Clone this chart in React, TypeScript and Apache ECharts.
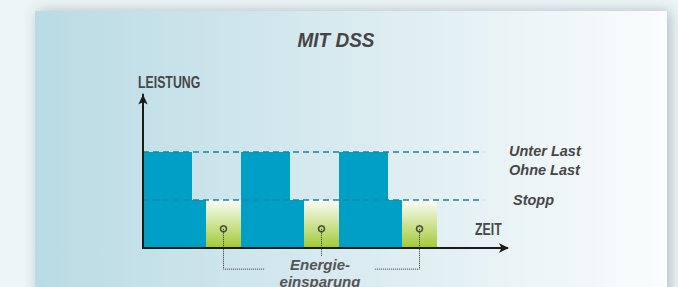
import React, { useEffect, useRef } from "react";
import * as echarts from "echarts";

// Segments of the power curve (x in time units, level: 0 axis, 1 = Stopp, 2 = Unter Last)
const segStart = [0, 7, 9, 14, 21, 23, 28, 35, 37];
const segEnd = [7, 9, 14, 21, 23, 28, 35, 37, 42];
const segLevel = [2, 1, 1, 2, 1, 1, 2, 1, 1];
// 0 = running (blue), 1 = stopped / energy saving (green)
const segKind = [0, 0, 1, 0, 0, 1, 0, 0, 1];

// Reference levels
const levelNames = ["Stopp", "Unter Last"];
const levelValues = [1, 2];
const dashEnd = 48.6;

// Saving markers (centre of each stop phase)
const saveX = [11.5, 25.5, 39.5];
const saveY = 0.4;
// leader lines from markers to label
const leader1 = [[11.5, 0.4], [11.5, -0.44], [17.3, -0.44]];
const leader2 = [[25.5, 0.4], [25.5, -0.17]];
const leader3 = [[39.5, 0.4], [39.5, -0.44], [33.0, -0.44]];

const X_MAX = 52;
const Y_MAX = 3.2;

const BLUE = "#00a0c6";
const DASH = "#17849f";
const TEXT = "#474747";

export default function App() {
  const ref = useRef<HTMLDivElement>(null);
  useEffect(() => {
    document.body.style.margin = "0";
    if (!ref.current) return;
    const chart = echarts.init(ref.current, undefined, { renderer: "svg" });
    const segData = segStart.map((s, i) => [s, segEnd[i], segLevel[i], segKind[i]]);
    const green = new echarts.graphic.LinearGradient(0, 0, 0, 1, [
      { offset: 0, color: "#fbfdf6" },
      { offset: 1, color: "#a2c935" },
    ]);
    const leaderStyle = { color: "#333", width: 1, type: "dotted" as const };
    const ital = "italic";
    const option: any = {
      animation: false,
      backgroundColor: "#edf5f7",
      grid: { left: 143, width: 364, top: 248 - 48 * Y_MAX, height: 48 * Y_MAX },
      xAxis: {
        type: "value",
        min: 0,
        max: X_MAX,
        z: 5,
        splitLine: { show: false },
        axisTick: { show: false },
        axisLabel: { show: false },
        axisLine: {
          show: true,
          symbol: ["none", "arrow"],
          symbolSize: [7, 10],
          symbolOffset: [0, 2],
          lineStyle: { color: "#1a1a1a", width: 2 },
        },
      },
      yAxis: {
        type: "value",
        min: 0,
        max: Y_MAX,
        z: 5,
        splitLine: { show: false },
        axisTick: { show: false },
        axisLabel: { show: false },
        axisLine: {
          show: true,
          symbol: ["none", "arrow"],
          symbolSize: [7, 10],
          lineStyle: { color: "#1a1a1a", width: 2 },
        },
      },
      series: [
        {
          type: "custom",
          z: 2,
          data: segData,
          renderItem: (params: any, api: any) => {
            const x0 = api.value(0);
            const x1 = api.value(1);
            const lv = api.value(2);
            const kind = api.value(3);
            const p0 = api.coord([x0, lv]);
            const p1 = api.coord([x1, 0]);
            return {
              type: "rect",
              shape: { x: p0[0], y: p0[1], width: p1[0] - p0[0], height: p1[1] - p0[1] },
              style: { fill: kind === 0 ? BLUE : green },
            };
          },
        },
        ...levelValues.map((v) => ({
          type: "line",
          z: 3,
          symbol: "none",
          silent: true,
          data: [[0, v], [dashEnd, v]],
          lineStyle: { color: DASH, width: 1.6, type: [6, 4] },
        })),
        ...[leader1, leader2, leader3].map((d) => ({
          type: "line",
          z: 4,
          symbol: "none",
          clip: false,
          data: d,
          lineStyle: leaderStyle,
        })),
        {
          type: "scatter",
          z: 6,
          symbol: "circle",
          symbolSize: 6,
          data: saveX.map((x) => [x, saveY]),
          itemStyle: { color: "rgba(0,0,0,0)", borderColor: "#2a2a2a", borderWidth: 1.6 },
        },
      ],
      graphic: [
        {
          type: "rect",
          z: -10,
          silent: true,
          shape: { x: 35, y: 11, width: 632, height: 320 },
          style: {
            fill: new echarts.graphic.LinearGradient(0, 0, 1, 0, [
              { offset: 0, color: "#badbe4" },
              { offset: 0.5, color: "#d9ebf0" },
              { offset: 1, color: "#fafcfd" },
            ]),
            shadowBlur: 14,
            shadowColor: "rgba(60,80,90,0.35)",
            shadowOffsetX: 3,
            shadowOffsetY: 0,
          },
        },
        {
          type: "text",
          x: 336,
          y: 40,
          scaleX: 0.95,
          style: {
            text: "MIT DSS",
            fontFamily: "Liberation Sans, Arial, sans-serif",
            fontWeight: "bold",
            fontStyle: ital,
            fontSize: 20,
            fill: "#444",
            textAlign: "center",
            textVerticalAlign: "middle",
          },
        },
        {
          type: "text",
          x: 138,
          y: 82,
          scaleX: 0.77,
          style: {
            text: "LEISTUNG",
            fontFamily: "Liberation Sans, Arial, sans-serif",
            fontWeight: "bold",
            fontSize: 16,
            fill: TEXT,
            textAlign: "left",
            textVerticalAlign: "middle",
          },
        },
        {
          type: "text",
          x: 475,
          y: 229,
          scaleX: 0.77,
          style: {
            text: "ZEIT",
            fontFamily: "Liberation Sans, Arial, sans-serif",
            fontWeight: "bold",
            fontSize: 16,
            fill: TEXT,
            textAlign: "left",
            textVerticalAlign: "middle",
          },
        },
        ...[
          { t: "Unter Last", x: 509, y: 151 },
          { t: "Ohne Last", x: 509, y: 170 },
          { t: levelNames[0], x: 513, y: 200 },
        ].map((o) => ({
          type: "text",
          x: o.x,
          y: o.y,
          style: {
            text: o.t,
            fontFamily: "Liberation Sans, Arial, sans-serif",
            fontWeight: "bold",
            fontStyle: ital,
            fontSize: 14.5,
            fill: TEXT,
            textAlign: "left",
            textVerticalAlign: "middle",
          },
        })),
        {
          type: "text",
          x: 320,
          y: 273,
          style: {
            text: "Energie-\neinsparung",
            fontFamily: "Liberation Sans, Arial, sans-serif",
            fontWeight: "bold",
            fontStyle: ital,
            fontSize: 15,
            lineHeight: 17,
            fill: "#555",
            textAlign: "center",
            textVerticalAlign: "middle",
          },
        },
      ],
    };
    chart.setOption(option);
    return () => chart.dispose();
  }, []);
  return <div ref={ref} style={{ width: 678, height: 287 }} />;
}
